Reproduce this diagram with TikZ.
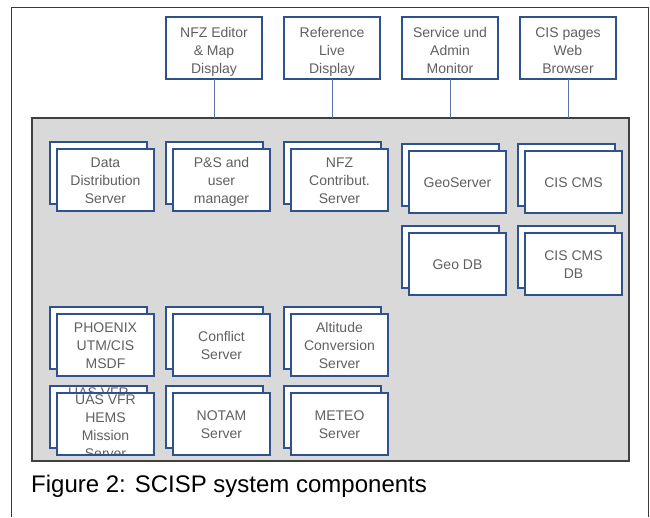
\documentclass[tikz,border=0pt]{standalone}
\usepackage{fontspec}
\setmainfont{Liberation Sans}
\definecolor{cardblue}{HTML}{2F528F}
\definecolor{linkblue}{HTML}{5B73A8}
\definecolor{txtgray}{HTML}{606060}
\definecolor{panelfill}{HTML}{D9D9D9}
\definecolor{paneledge}{HTML}{404040}
\definecolor{framegray}{HTML}{3A3A3A}

% one server: a back sheet, a front sheet offset by (7,7), and its label
\newcommand{\servercard}[4]{%
  \node[card] (#1-b) at (#2,#3) {};
  \node[card] (#1) at (#2+7,#3+7) {};
  \node[cardtext] (#1-t) at ([yshift=-2pt]#1.center) {#4};
}

\begin{document}
\begin{tikzpicture}[x=1pt,y=-1pt,
  card/.style={draw=cardblue, line width=1.3pt, fill=white,
    minimum width=97pt, minimum height=62pt, inner sep=0pt, outer sep=0pt,
    anchor=north west},
  cardtext/.style={text=txtgray, font=\fontsize{14}{18}\selectfont, align=center,
    inner sep=0pt,
    execute at begin node={\vphantom{Ag}}, execute at end node={\vphantom{Ag}}},
  client/.style={draw=cardblue, line width=1.2pt, fill=white,
    minimum width=96pt, minimum height=62pt, inner sep=0pt, outer sep=0pt,
    anchor=north west},
  panel/.style={draw=paneledge, line width=1.5pt, fill=panelfill,
    minimum width=597pt, minimum height=343pt, inner sep=0pt, outer sep=0pt,
    anchor=north west},
  link/.style={draw=linkblue, line width=1pt}]
\useasboundingbox (0,0) rectangle (650,517);
\fill[white] (0,0) rectangle (650,517);

% page frame (open at the bottom)
\draw[framegray, line width=1pt] (11,517) -- (11,7) -- (648,7) -- (648,517);

% client applications
\node[client] (nfzed) at (166,17) {};
\node[client] (refld) at (284,17) {};
\node[client] (svcmon) at (402,17) {};
\node[client] (cisweb) at (520,17) {};
\node[cardtext] (nfzed-t) at ([yshift=-4pt]nfzed.center) {NFZ Editor\\\& Map\\Display};
\node[cardtext] (refld-t) at ([yshift=-4pt]refld.center) {Reference\\Live\\Display};
\node[cardtext] (svcmon-t) at ([yshift=-4pt]svcmon.center) {Service und\\Admin\\Monitor};
\node[cardtext] (cisweb-t) at ([yshift=-4pt]cisweb.center) {CIS pages\\Web\\Browser};

% system area
\node[panel] (sys) at (32,118) {};

\foreach \c in {nfzed,refld,svcmon,cisweb}
  \draw[link] (\c.south) -- (\c.south |- sys.north);

% server components
\servercard{dds}{50}{142}{Data\\Distribution\\Server}
\servercard{psum}{166}{142}{P\&S and\\user\\manager}
\servercard{nfzcs}{284}{142}{NFZ\\Contribut.\\Server}
\servercard{geosrv}{402}{144}{GeoServer}
\servercard{ciscms}{518}{144}{CIS CMS}
\servercard{geodb}{402}{226}{Geo DB}
\servercard{ciscmsdb}{518}{226}{CIS CMS\\DB}
\servercard{phoenix}{50}{307}{PHOENIX\\UTM/CIS\\MSDF}
\servercard{conflict}{166}{307}{Conflict\\Server}
\servercard{altconv}{284}{307}{Altitude\\Conversion\\Server}

% mission server: its four lines overflow the sheets and are cut by them
\node[card] (uas-b) at (50,386) {};
\begin{scope}
  \clip (uas-b.north west) rectangle (uas-b.south east);
  \node[cardtext] (uas-bt) at ([yshift=-4pt]uas-b.center) {UAS VFR\\HEMS\\Mission\\Server};
\end{scope}
\node[card] (uas) at (57,393) {};
\begin{scope}
  \clip (uas.north west) rectangle (uas.south east);
  \node[cardtext] (uas-t) at ([yshift=-4pt]uas.center) {UAS VFR\\HEMS\\Mission\\Server};
\end{scope}
\draw[cardblue, line width=1.3pt] (uas.north west) rectangle (uas.south east);

\servercard{notam}{166}{386}{NOTAM\\Server}
\servercard{meteo}{284}{386}{METEO\\Server}

% caption
\node[anchor=base west, inner sep=0pt, font=\fontsize{24}{28}\selectfont]
  (caption) at (31,492) {Figure 2: SCISP system components};
\end{tikzpicture}
\end{document}
